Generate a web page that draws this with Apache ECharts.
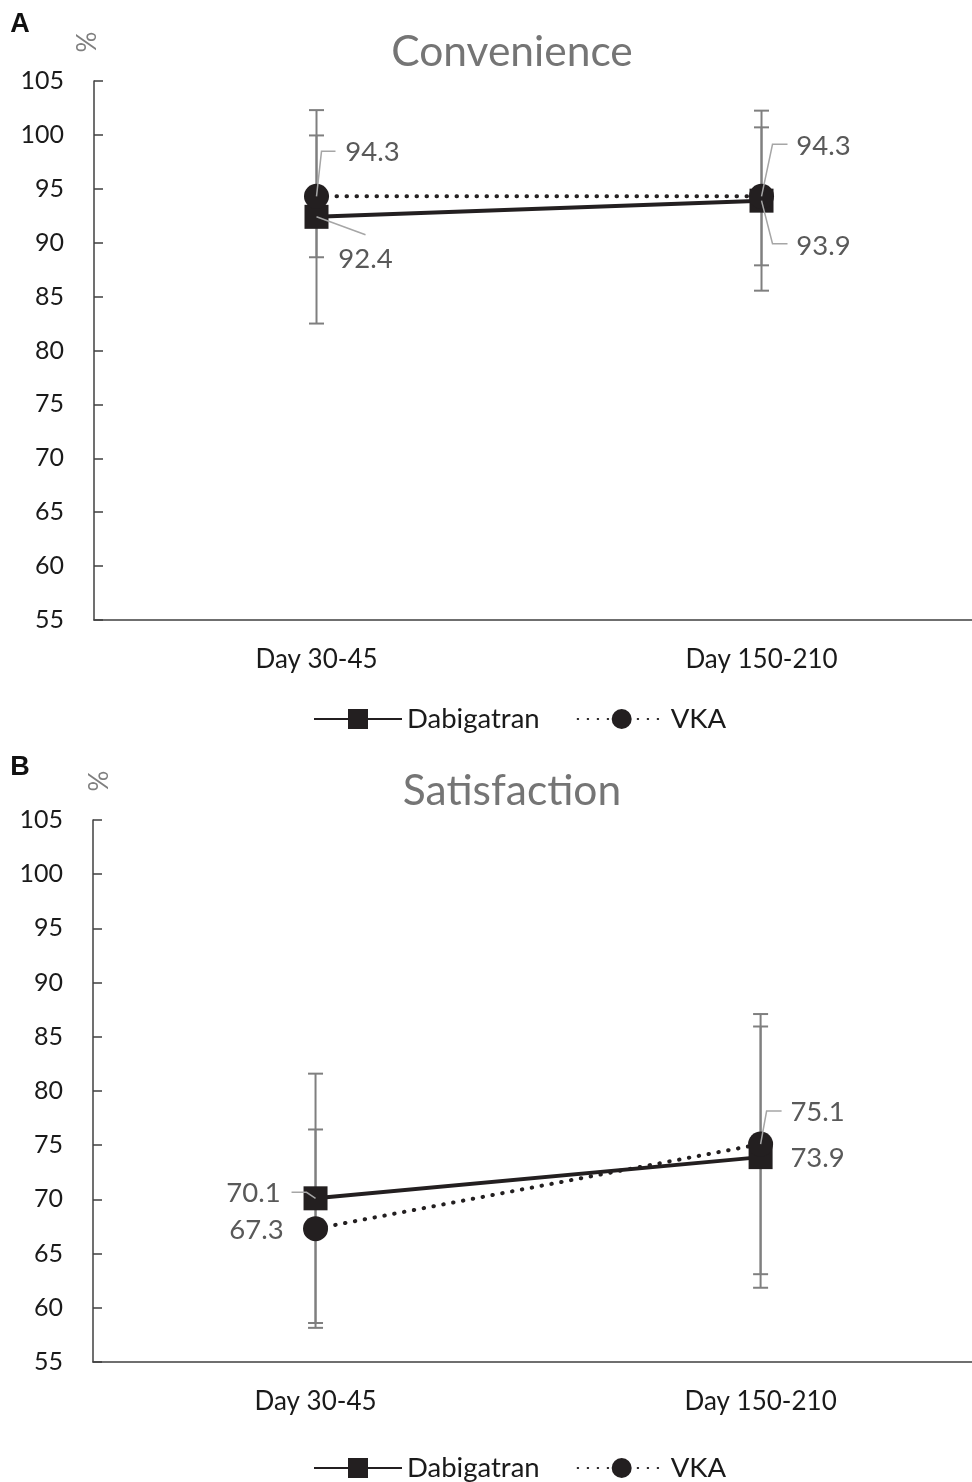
<!DOCTYPE html>
<html>
<head>
<meta charset="utf-8">
<script src="https://cdn.jsdelivr.net/npm/echarts@6/dist/echarts.min.js"></script>
<style>
html,body{margin:0;padding:0;background:#fff;}
#c{width:972px;height:1482px;}
</style>
</head>
<body>
<div id="c"></div>
<script>
// ---- data ----
const categories = ['Day 30-45', 'Day 150-210'];
const categoryIndex = [0, 1];
const seriesNames = ['Dabigatran', 'VKA'];
const titles = ['Convenience', 'Satisfaction'];
const panelLetters = ['A', 'B'];
const yMin = 55, yMax = 105, yStep = 5;

const convDabigatran = [92.4, 93.9];
const convVKA = [94.3, 94.3];
const convDabigatranErr = [9.9, 8.35];
const convVKAErr = [5.65, 6.4];

const satDabigatran = [70.1, 73.9];
const satVKA = [67.3, 75.1];
const satDabigatranErr = [11.5, 12.05];
const satVKAErr = [9.15, 12.0];

// ---- style / layout (not data) ----
const FONT = 'Lato, "Open Sans", sans-serif';
const INK = '#231f20';
const GRAY_LABEL = '#595959';
const ERR_COLOR = '#7f7f7f';
const LEADER_COLOR = '#a6a6a6';

const grids = [
  {left: 94, top: 81, right: 0, height: 539},
  {left: 93, top: 820, right: 0, height: 542}
];
// visible x range: category slots are 445px apart, plot cut at right edge
const xRanges = [[-0.5, 1.473], [-0.5, 1.475]];
// label offsets (pixels, relative to point)
const labelOffsets = {
  convDab: [[49, 42], [62, 45]],
  convVKA: [[56, -44], [62, -50]],
  satDab: [[-62, -5], [57, 1]],
  satVKA: [[-59, 1], [57, -32]]
};
// leader line paths (pixels, relative to point)
const leaderPaths = {
  convDab: [[[0, 0], [49, 18]], [[0, 0], [11, 43], [26, 43]]],
  convVKA: [[[0, 0], [5, -45], [19, -45]], [[0, 0], [11, -52], [26, -52]]],
  satDab: [[[0, 0], [-9, -6], [-24, -6]], []],
  satVKA: [[], [[0, 0], [6, -33], [21, -33]]]
};

const panels = [
  {dab: convDabigatran, vka: convVKA, dabErr: convDabigatranErr, vkaErr: convVKAErr, dabKey: 'convDab', vkaKey: 'convVKA'},
  {dab: satDabigatran, vka: satVKA, dabErr: satDabigatranErr, vkaErr: satVKAErr, dabKey: 'satDab', vkaKey: 'satVKA'}
];

function errorSeries(vals, errs, gi) {
  return {
    type: 'custom', xAxisIndex: gi, yAxisIndex: gi, z: 1, silent: true,
    data: vals.map((v, i) => [categoryIndex[i], v, errs[i]]),
    renderItem: function (params, api) {
      const x = api.value(0), v = api.value(1), e = api.value(2);
      const t = api.coord([x, v + e]);
      const b = api.coord([x, v - e]);
      const hw = 7.5;
      const st = {stroke: ERR_COLOR, lineWidth: 2};
      return {type: 'group', children: [
        {type: 'line', shape: {x1: t[0], y1: t[1], x2: b[0], y2: b[1]}, style: st},
        {type: 'line', shape: {x1: t[0] - hw, y1: t[1], x2: t[0] + hw, y2: t[1]}, style: st},
        {type: 'line', shape: {x1: b[0] - hw, y1: b[1], x2: b[0] + hw, y2: b[1]}, style: st}
      ]};
    }
  };
}

function leaderSeries(vals, key, gi) {
  return {
    type: 'custom', xAxisIndex: gi, yAxisIndex: gi, z: 10, silent: true,
    data: vals.map((v, i) => [categoryIndex[i], v]),
    renderItem: function (params, api) {
      const idx = params.dataIndex;
      const path = leaderPaths[key][idx];
      if (!path || path.length < 2) return null;
      const p = api.coord([api.value(0), api.value(1)]);
      return {type: 'polyline', shape: {points: path.map(d => [p[0] + d[0], p[1] + d[1]])},
        style: {stroke: LEADER_COLOR, lineWidth: 1.5, fill: null}};
    }
  };
}

function lineSeries(name, vals, key, gi, isDab) {
  return {
    type: 'line', name: name, xAxisIndex: gi, yAxisIndex: gi, z: 5,
    symbol: isDab ? 'rect' : 'circle',
    symbolSize: isDab ? 24 : 25,
    itemStyle: {color: INK},
    lineStyle: isDab ? {color: INK, width: 4, type: 'solid'} : {color: INK, width: 4, type: [0.5, 9.5], cap: 'round'},
    data: vals.map((v, i) => ({
      value: [categoryIndex[i], v],
      label: {offset: labelOffsets[key][i]}
    })),
    label: {
      show: true, position: 'inside', color: GRAY_LABEL, fontSize: 27.5, fontFamily: FONT,
      formatter: p => Number(p.value[1]).toFixed(1)
    },
    emphasis: {disabled: true}
  };
}

const xAxes = [], yAxes = [], series = [], legends = [], graphics = [];
panels.forEach((pn, gi) => {
  xAxes.push({
    type: 'value', gridIndex: gi, min: xRanges[gi][0], max: xRanges[gi][1],
    axisLine: {show: true, onZero: false, lineStyle: {color: '#404040', width: 1.5}},
    axisTick: {show: false},
    splitLine: {show: false},
    axisLabel: {color: '#1a1a1a', fontSize: 26, fontFamily: FONT, margin: 27,
      customValues: categoryIndex, formatter: v => categories[Math.round(v)] || ''}
  });
  yAxes.push({
    type: 'value', gridIndex: gi, min: yMin, max: yMax, interval: yStep,
    axisLine: {show: true, onZero: false, lineStyle: {color: '#404040', width: 1.5}},
    axisTick: {show: true, inside: true, length: 9, lineStyle: {color: '#404040', width: 1.5}},
    splitLine: {show: false},
    axisLabel: {color: '#1a1a1a', fontSize: 25, fontFamily: FONT, margin: 30}
  });
  series.push(errorSeries(pn.dab, pn.dabErr, gi));
  series.push(errorSeries(pn.vka, pn.vkaErr, gi));
  series.push(lineSeries(seriesNames[0], pn.dab, pn.dabKey, gi, true));
  series.push(lineSeries(seriesNames[1], pn.vka, pn.vkaKey, gi, false));
  series.push(leaderSeries(pn.dab, pn.dabKey, gi));
  series.push(leaderSeries(pn.vka, pn.vkaKey, gi));
  legends.push({
    data: seriesNames, left: 308, top: gi === 0 ? 700 : 1449,
    itemWidth: 88, itemHeight: 25, itemGap: 37,
    textStyle: {color: '#1a1a1a', fontSize: 27.5, fontFamily: FONT},
    selectedMode: false
  });
});

const titleY = [52, 791];
const letterY = [25, 768];
const pctPos = [[88, 42], [100, 781]];
for (let i = 0; i < 2; i++) {
  graphics.push({type: 'text', x: 512, y: titleY[i], style: {text: titles[i], align: 'center', verticalAlign: 'middle', fill: '#757575', font: '42.5px ' + FONT}});
  graphics.push({type: 'text', x: 20, y: letterY[i], style: {text: panelLetters[i], align: 'center', verticalAlign: 'middle', fill: '#111', font: 'bold 27px "Liberation Sans", Arial, sans-serif'}});
  graphics.push({type: 'text', x: pctPos[i][0], y: pctPos[i][1], rotation: Math.PI / 2, style: {text: '%', align: 'center', verticalAlign: 'middle', fill: '#7f7f7f', font: '26px ' + FONT}});
}

const chart = echarts.init(document.getElementById('c'), null, {renderer: 'canvas'});
chart.setOption({
  animation: false,
  backgroundColor: '#fff',
  grid: grids,
  xAxis: xAxes,
  yAxis: yAxes,
  legend: legends,
  series: series,
  graphic: graphics
});
</script>
</body>
</html>
